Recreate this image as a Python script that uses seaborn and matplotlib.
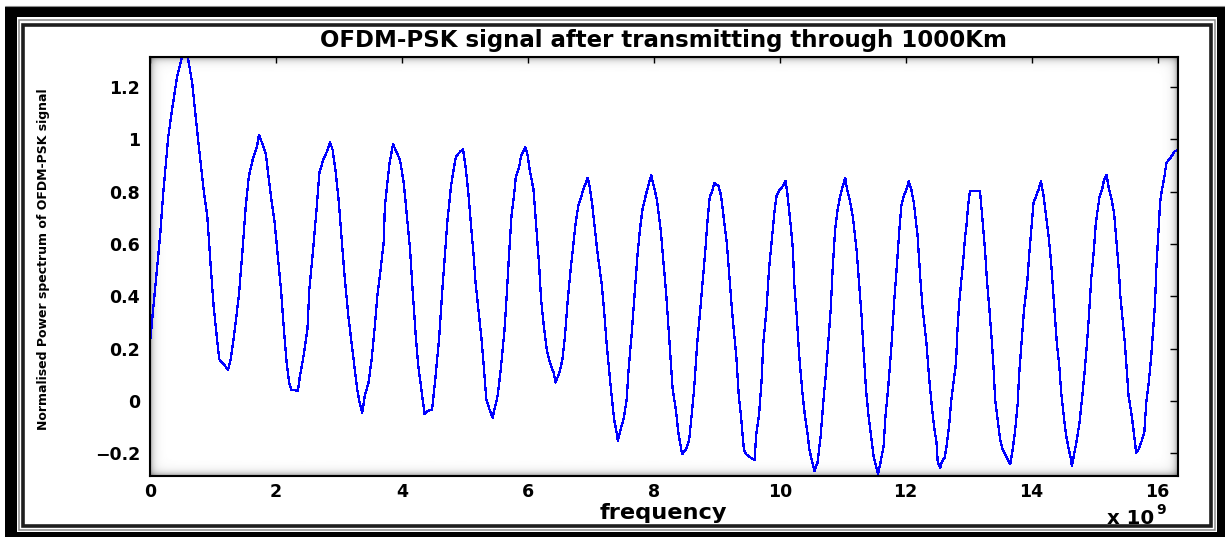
import numpy as np
import pandas as pd
import matplotlib
matplotlib.use("Agg")
import matplotlib.pyplot as plt
import seaborn as sns
from matplotlib.patches import Rectangle

# ---- data: normalised power spectrum, frequency in units of 1e9 Hz ----
freq = [
    0.00, 0.08, 0.16, 0.21, 0.29, 0.35, 0.43, 0.51, 0.60, 0.67, 0.75, 0.80, 0.85, 0.91, 0.96,
    1.01, 1.07, 1.10, 1.17, 1.24, 1.28, 1.33, 1.41, 1.47, 1.52, 1.57, 1.63, 1.70, 1.73, 1.78,
    1.84, 1.92, 1.98, 2.03, 2.08, 2.13, 2.17, 2.21, 2.24, 2.35, 2.38, 2.43, 2.50, 2.53, 2.59,
    2.64, 2.69, 2.75, 2.80, 2.86, 2.90, 2.95, 3.00, 3.04, 3.09, 3.15, 3.20, 3.25, 3.29, 3.33,
    3.37, 3.41, 3.47, 3.52, 3.57, 3.61, 3.65, 3.71, 3.73, 3.77, 3.80, 3.86, 3.92, 3.97, 4.03,
    4.08, 4.13, 4.17, 4.22, 4.26, 4.31, 4.36, 4.41, 4.48, 4.53, 4.59, 4.65, 4.69, 4.72, 4.78,
    4.83, 4.86, 4.93, 4.97, 5.01, 5.05, 5.09, 5.14, 5.17, 5.22, 5.27, 5.30, 5.34, 5.39, 5.44,
    5.47, 5.52, 5.57, 5.63, 5.67, 5.70, 5.74, 5.78, 5.81, 5.86, 5.89, 5.96, 6.00, 6.03, 6.09,
    6.14, 6.18, 6.21, 6.26, 6.30, 6.35, 6.41, 6.44, 6.50, 6.55, 6.59, 6.63, 6.68, 6.72, 6.76,
    6.80, 6.85, 6.88, 6.95, 6.98, 7.02, 7.06, 7.10, 7.17, 7.21, 7.25, 7.29, 7.32, 7.37, 7.41,
    7.43, 7.46, 7.52, 7.57, 7.60, 7.65, 7.70, 7.74, 7.78, 7.82, 7.87, 7.91, 7.96, 8.00, 8.05,
    8.11, 8.16, 8.20, 8.24, 8.27, 8.30, 8.35, 8.39, 8.43, 8.45, 8.51, 8.56, 8.60, 8.64, 8.69,
    8.72, 8.76, 8.82, 8.85, 8.89, 8.92, 8.96, 9.03, 9.07, 9.12, 9.16, 9.20, 9.25, 9.31, 9.35,
    9.39, 9.43, 9.47, 9.54, 9.60, 9.63, 9.67, 9.71, 9.74, 9.79, 9.83, 9.88, 9.92, 9.95, 10.00,
    10.05, 10.09, 10.12, 10.17, 10.21, 10.23, 10.27, 10.31, 10.36, 10.40, 10.44, 10.47, 10.52, 10.55, 10.60,
    10.65, 10.70, 10.73, 10.77, 10.81, 10.84, 10.88, 10.92, 10.96, 11.00, 11.04, 11.07, 11.11, 11.16, 11.22,
    11.26, 11.30, 11.33, 11.37, 11.41, 11.45, 11.49, 11.53, 11.56, 11.60, 11.65, 11.68, 11.72, 11.77, 11.82,
    11.86, 11.90, 11.93, 11.97, 12.01, 12.05, 12.09, 12.13, 12.19, 12.23, 12.27, 12.33, 12.37, 12.41, 12.45,
    12.49, 12.51, 12.55, 12.58, 12.62, 12.65, 12.69, 12.72, 12.76, 12.80, 12.82, 12.85, 12.88, 12.92, 12.94,
    12.97, 12.99, 13.02, 13.18, 13.22, 13.26, 13.29, 13.33, 13.37, 13.40, 13.42, 13.46, 13.50, 13.54, 13.59,
    13.66, 13.70, 13.74, 13.78, 13.80, 13.84, 13.88, 13.93, 13.96, 14.00, 14.03, 14.07, 14.11, 14.15, 14.19,
    14.23, 14.27, 14.31, 14.34, 14.37, 14.40, 14.44, 14.47, 14.51, 14.55, 14.59, 14.62, 14.64, 14.68, 14.72,
    14.76, 14.80, 14.84, 14.88, 14.91, 14.95, 14.99, 15.02, 15.05, 15.08, 15.12, 15.15, 15.19, 15.22, 15.27,
    15.31, 15.35, 15.38, 15.41, 15.45, 15.48, 15.51, 15.54, 15.59, 15.63, 15.66, 15.70, 15.74, 15.79, 15.82,
    15.86, 15.90, 15.93, 15.96, 15.98, 16.01, 16.04, 16.07, 16.11, 16.14, 16.18, 16.23, 16.27, 16.32,
]
power = [
    0.223, 0.426, 0.630, 0.795, 1.010, 1.113, 1.240, 1.315, 1.315, 1.215, 1.030, 0.920, 0.810, 0.706, 0.528,
    0.363, 0.223, 0.159, 0.140, 0.120, 0.159, 0.242, 0.400, 0.578, 0.744, 0.859, 0.922, 0.973, 1.018, 0.986,
    0.942, 0.783, 0.680, 0.553, 0.426, 0.260, 0.146, 0.070, 0.044, 0.038, 0.095, 0.159, 0.273, 0.426, 0.579,
    0.719, 0.872, 0.922, 0.948, 0.989, 0.960, 0.872, 0.757, 0.630, 0.477, 0.324, 0.223, 0.120, 0.044, -0.007,
    -0.045, 0.019, 0.070, 0.159, 0.286, 0.400, 0.477, 0.604, 0.744, 0.833, 0.903, 0.982, 0.948, 0.922, 0.833,
    0.706, 0.579, 0.426, 0.248, 0.133, 0.044, -0.051, -0.038, -0.032, 0.083, 0.236, 0.452, 0.579, 0.681, 0.821,
    0.897, 0.935, 0.954, 0.963, 0.897, 0.808, 0.693, 0.553, 0.452, 0.338, 0.223, 0.133, 0.006, -0.032, -0.064,
    -0.032, 0.019, 0.120, 0.273, 0.426, 0.553, 0.706, 0.783, 0.859, 0.891, 0.935, 0.971, 0.935, 0.884, 0.808,
    0.643, 0.516, 0.388, 0.273, 0.197, 0.146, 0.108, 0.070, 0.108, 0.159, 0.248, 0.375, 0.503, 0.592, 0.681,
    0.744, 0.783, 0.808, 0.853, 0.821, 0.757, 0.668, 0.579, 0.452, 0.350, 0.223, 0.120, 0.044, -0.070, -0.121,
    -0.153, -0.121, -0.070, 0.006, 0.120, 0.260, 0.426, 0.553, 0.655, 0.732, 0.783, 0.821, 0.862, 0.821, 0.770,
    0.655, 0.516, 0.400, 0.260, 0.150, 0.044, -0.032, -0.121, -0.178, -0.204, -0.185, -0.153, -0.057, 0.044, 0.223,
    0.299, 0.413, 0.579, 0.681, 0.783, 0.796, 0.833, 0.821, 0.783, 0.681, 0.604, 0.477, 0.324, 0.171, 0.019,
    -0.070, -0.185, -0.204, -0.217, -0.225, -0.121, -0.057, 0.070, 0.223, 0.350, 0.503, 0.630, 0.732, 0.783, 0.808,
    0.821, 0.842, 0.796, 0.681, 0.579, 0.452, 0.324, 0.171, 0.032, -0.057, -0.121, -0.185, -0.236, -0.268, -0.236,
    -0.134, 0.019, 0.095, 0.223, 0.350, 0.503, 0.655, 0.732, 0.783, 0.821, 0.853, 0.808, 0.770, 0.706, 0.579,
    0.452, 0.324, 0.197, 0.044, -0.057, -0.134, -0.210, -0.248, -0.280, -0.236, -0.172, -0.057, 0.044, 0.197, 0.388,
    0.516, 0.655, 0.744, 0.783, 0.808, 0.840, 0.808, 0.757, 0.630, 0.477, 0.350, 0.223, 0.095, -0.007, -0.096,
    -0.159, -0.236, -0.255, -0.230, -0.217, -0.172, -0.096, -0.007, 0.070, 0.146, 0.260, 0.375, 0.452, 0.553, 0.617,
    0.681, 0.744, 0.802, 0.802, 0.693, 0.579, 0.464, 0.350, 0.223, 0.108, 0.006, -0.070, -0.146, -0.185, -0.210,
    -0.242, -0.185, -0.108, -0.007, 0.095, 0.223, 0.350, 0.452, 0.553, 0.668, 0.757, 0.783, 0.808, 0.840, 0.783,
    0.706, 0.630, 0.528, 0.426, 0.324, 0.223, 0.133, 0.032, -0.057, -0.134, -0.185, -0.217, -0.248, -0.197, -0.146,
    -0.083, 0.006, 0.108, 0.223, 0.324, 0.477, 0.579, 0.681, 0.732, 0.783, 0.808, 0.846, 0.865, 0.821, 0.770,
    0.719, 0.604, 0.516, 0.400, 0.299, 0.223, 0.120, 0.019, -0.057, -0.134, -0.197, -0.185, -0.159, -0.121, -0.007,
    0.070, 0.171, 0.273, 0.375, 0.503, 0.630, 0.757, 0.808, 0.859, 0.910, 0.922, 0.938, 0.954, 0.958,
]

x_ticks = [0, 2, 4, 6, 8, 10, 12, 14, 16]
x_tick_labels = ["0", "2", "4", "6", "8", "10", "12", "14", "16"]
y_ticks = [-0.2, 0.0, 0.2, 0.4, 0.6, 0.8, 1.0, 1.2]
y_tick_labels = ["\u22120.2", "0", "0.2", "0.4", "0.6", "0.8", "1", "1.2"]

title_text = "OFDM-PSK signal after transmitting through 1000Km"
x_label = "frequency"
y_label = "Normalised Power spectrum of OFDM-PSK signal"

df = pd.DataFrame({"freq": freq, "power": power})

sns.set_theme(style="white")
plt.rcParams["font.family"] = ["DejaVu Sans"]
plt.rcParams["font.weight"] = "bold"

W, H = 1225, 537
fig = plt.figure(figsize=(W / 100, H / 100), dpi=100, facecolor="white")

# background layer in pixel coordinates: the framed border and the axes bevel
bg = fig.add_axes([0, 0, 1, 1], zorder=0)
bg.set_xlim(0, W)
bg.set_ylim(H, 0)
bg.axis("off")

bg.add_patch(Rectangle((5, 7), W - 5, H - 7, facecolor="black", edgecolor="none"))
bg.plot([5, W], [6.3, 6.3], color="#8c8c8c", lw=0.8)
bg.add_patch(Rectangle((17, 17), 1200, 515, facecolor="white", edgecolor="none"))
bg.add_patch(Rectangle((19, 19.5), 1196, 510.5, fill=False, edgecolor="#8a8a8a", lw=1.1))
bg.add_patch(Rectangle((23, 25), 1188, 501, fill=False, edgecolor="#1e1e1e", lw=2.6))

ax_l, ax_r, ax_t, ax_b = 150, 1177.7, 57, 476
nx, ny = int(ax_r - ax_l), int(ax_b - ax_t)
xs = np.arange(nx) + 0.5
ys = np.arange(ny) + 0.5
depth, reach = 0.42, 3.2
fx = (1 - depth * np.exp(-xs / reach)) * (1 - depth * np.exp(-(nx - xs) / reach))
fy = (1 - depth * np.exp(-ys / reach)) * (1 - depth * np.exp(-(ny - ys) / reach))
shade = np.outer(fy, fx)
bg.imshow(shade, cmap="gray", vmin=0, vmax=1, extent=(ax_l, ax_r, ax_b, ax_t),
          aspect="auto", interpolation="bilinear", zorder=1)
bg.set_xlim(0, W)
bg.set_ylim(H, 0)

# main plotting axes
ax = fig.add_axes([ax_l / W, 1 - ax_b / H, (ax_r - ax_l) / W, (ax_b - ax_t) / H], zorder=2)
ax.set_facecolor("none")

sns.lineplot(data=df, x="freq", y="power", ax=ax, color="blue", lw=0.9,
             estimator=None, sort=False, antialiased=False)

ax.set_xlim(0, 16.32)
ax.set_ylim(-0.287, 1.315)
ax.set_xticks(x_ticks)
ax.set_xticklabels(x_tick_labels)
ax.set_yticks(y_ticks)
ax.set_yticklabels(y_tick_labels)

for s in ax.spines.values():
    s.set_visible(True)
    s.set_color("black")
    s.set_linewidth(1.5)

ax.tick_params(axis="both", direction="in", top=True, right=True, colors="black",
               labelsize=12.5, width=1.0)
ax.tick_params(axis="x", length=4.5, pad=5)
ax.tick_params(axis="y", length=6, pad=7.2)
for lab in ax.get_xticklabels() + ax.get_yticklabels():
    lab.set_fontweight("bold")

ttl = ax.set_title(title_text, fontsize=15, fontweight="bold", color="black", pad=7.5)
xl = ax.set_xlabel(x_label, fontsize=14, fontweight="bold", color="black")
ax.xaxis.set_label_coords(0.5, (ax_b - 503) / (ax_b - ax_t))
yl = ax.set_ylabel(y_label, fontsize=9, fontweight="bold", color="black")
ax.yaxis.set_label_coords((50 - ax_l) / (ax_r - ax_l), (ax_b - 259) / (ax_b - ax_t))

scale_base = fig.text(1107 / W, 1 - 524 / H, "x 10", fontsize=13, fontweight="bold",
                      color="black", ha="left", va="baseline")


def fit(text, target, use_height=False):
    fig.canvas.draw()
    bb = text.get_window_extent(fig.canvas.get_renderer())
    cur = bb.height if use_height else bb.width
    if cur > 0:
        text.set_fontsize(text.get_fontsize() * target / cur)


fit(ttl, 690)
fit(xl, 128)
fit(yl, 342, use_height=True)
fit(scale_base, 47)

# exponent placed right after the "x 10" multiplier
fig.canvas.draw()
bb = scale_base.get_window_extent(fig.canvas.get_renderer())
fig.text((bb.x1 + 2) / W, 1 - 514 / H, "9", fontsize=10, fontweight="bold",
         color="black", ha="left", va="baseline")

fig.savefig("out.png", dpi=100, facecolor="white")
